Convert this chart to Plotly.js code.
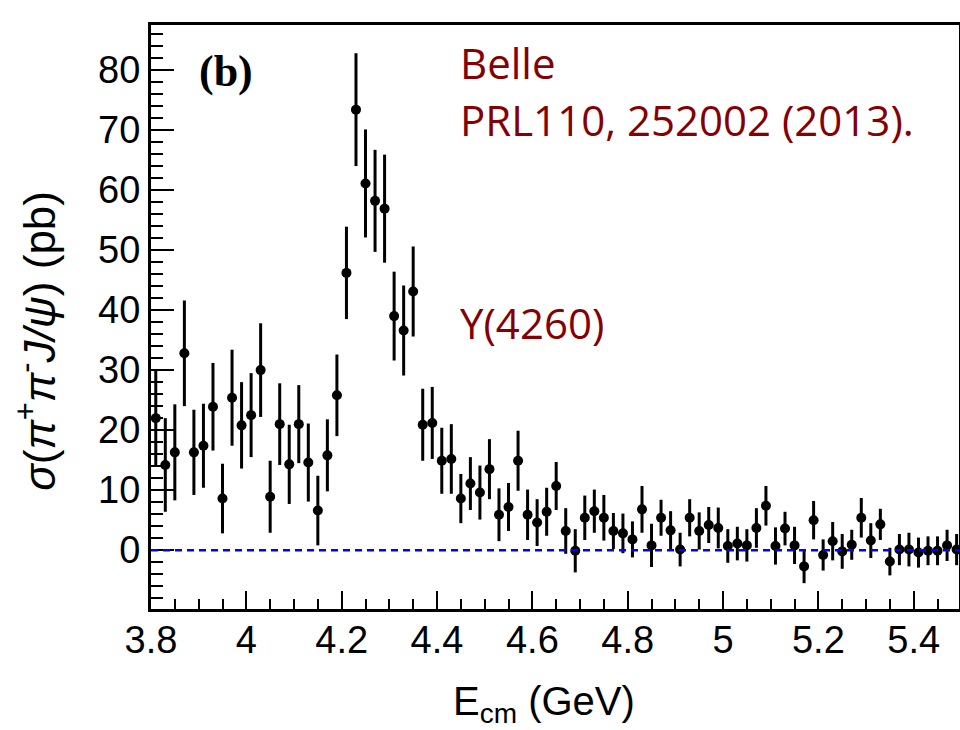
<!DOCTYPE html>
<html>
<head>
<meta charset="utf-8">
<script src="https://cdn.plot.ly/plotly-3.0.1.min.js"></script>
<style>html,body{margin:0;padding:0;background:#fff;}#chart{width:960px;height:730px;}</style>
</head>
<body>
<div id="chart"></div>
<script>
// Bin centres (GeV)
const energy = [3.81,3.83,3.85,3.87,3.89,3.91,3.93,3.95,3.97,3.99,
  4.01,4.03,4.05,4.07,4.09,4.11,4.13,4.15,4.17,4.19,
  4.21,4.23,4.25,4.27,4.29,4.31,4.33,4.35,4.37,4.39,
  4.41,4.43,4.45,4.47,4.49,4.51,4.53,4.55,4.57,4.59,
  4.61,4.63,4.65,4.67,4.69,4.71,4.73,4.75,4.77,4.79,
  4.81,4.83,4.85,4.87,4.89,4.91,4.93,4.95,4.97,4.99,
  5.01,5.03,5.05,5.07,5.09,5.11,5.13,5.15,5.17,5.19,
  5.21,5.23,5.25,5.27,5.29,5.31,5.33,5.35,5.37,5.39,
  5.41,5.43,5.45,5.47,5.49];
// Cross section (pb)
const sigma = [22.0,14.2,16.3,32.8,16.3,17.4,23.9,8.6,25.4,20.8,
  22.5,30.0,8.9,21.0,14.3,21.0,14.6,6.6,15.8,25.8,
  46.2,73.4,61.1,58.2,56.9,39.0,36.6,43.1,20.9,21.2,
  14.9,15.2,8.6,11.1,9.6,13.5,5.9,7.2,14.9,5.9,
  4.6,6.4,10.7,3.2,-0.1,5.4,6.5,5.4,3.2,2.8,
  1.8,6.8,0.8,5.4,3.3,0.1,5.4,3.2,4.2,3.7,
  0.7,1.1,0.8,3.7,7.4,0.7,3.6,0.8,-2.7,5.0,
  -0.8,1.5,-0.2,0.9,5.4,1.6,4.3,-1.9,0.1,0.1,
  -0.4,-0.1,-0.1,0.8,0.1];
// Statistical errors (pb)
const sigmaErr = [8.0,7.8,8.0,8.8,7.1,7.0,7.3,5.8,8.0,7.2,
  7.0,7.8,6.0,6.8,6.6,6.5,6.5,5.8,6.0,6.8,
  7.7,9.4,9.0,8.5,9.0,7.4,7.5,7.5,6.0,6.0,
  5.5,5.8,4.1,4.4,4.5,5.0,4.4,4.0,5.0,4.2,
  3.9,4.0,4.0,3.8,3.6,3.7,3.6,3.8,3.0,3.3,
  3.0,3.9,3.6,3.0,3.2,2.8,3.1,3.1,3.0,3.4,
  2.8,2.8,2.7,3.3,3.3,3.1,2.8,3.1,2.8,3.2,
  2.6,3.2,2.9,2.5,3.3,2.9,2.6,2.3,2.6,2.8,
  2.5,2.4,2.4,2.6,2.6];

const xTickVals = [3.8,4.0,4.2,4.4,4.6,4.8,5.0,5.2,5.4];
const xTickText = ["3.8","4","4.2","4.4","4.6","4.8","5","5.2","5.4"];
const yTickVals = [0,10,20,30,40,50,60,70,80];
const yTickText = ["0","10","20","30","40","50","60","70","80"];

const trace = {
  x: energy, y: sigma, type: 'scatter', mode: 'markers',
  marker: {color: '#000', size: 10},
  error_y: {type: 'data', array: sigmaErr, visible: true, color: '#000', thickness: 3, width: 0},
  showlegend: false, hoverinfo: 'x+y'
};

const sansFont = '"Liberation Sans", Arial, Helvetica, sans-serif';
const tickFont = {family: sansFont, size: 38, color: '#000'};
const red = '#850000';
const noteFont = {family: '"Open Sans", "Noto Sans", sans-serif', size: 42, color: red};

const layout = {
  width: 960, height: 730,
  margin: {l: 151, r: 1, t: 25, b: 121},
  paper_bgcolor: '#fff', plot_bgcolor: '#fff',
  xaxis: {
    range: [3.8, 5.495], showgrid: false, zeroline: false,
    showline: true, linecolor: '#000', linewidth: 3, mirror: true,
    ticks: 'inside', ticklen: 18, tickwidth: 2, tickcolor: '#000',
    tickmode: 'array', tickvals: xTickVals, ticktext: xTickText,
    tickfont: tickFont, ticklabelstandoff: -5,
    minor: {dtick: 0.05, tick0: 3.8, ticks: 'inside', ticklen: 10, tickwidth: 2, tickcolor: '#000', showgrid: false}
  },
  yaxis: {
    range: [-9.8, 87.5], showgrid: false, zeroline: false,
    showline: true, linecolor: '#000', linewidth: 3, mirror: true,
    ticks: 'inside', ticklen: 23, tickwidth: 2, tickcolor: '#000',
    tickmode: 'array', tickvals: yTickVals, ticktext: yTickText,
    tickfont: tickFont, ticklabelstandoff: 0,
    minor: {dtick: 2, tick0: 0, ticks: 'inside', ticklen: 12, tickwidth: 2, tickcolor: '#000', showgrid: false}
  },
  shapes: [{type: 'line', xref: 'paper', x0: 0, x1: 1, yref: 'y', y0: 0, y1: 0,
    line: {color: '#0000ff', width: 2.5, dash: '7px,5px'}, layer: 'above'}],
  annotations: [
    {text: 'E<sub>cm</sub> (GeV)', xref: 'paper', yref: 'paper', x: 0.486, y: -0.116, xanchor: 'center', yanchor: 'top', showarrow: false,
      font: {family: sansFont, size: 40, color: '#000'}},
    {text: '<i>σ</i>(<i>π</i><sup>+</sup><i>π</i><sup>-</sup><i>J/ψ</i>) (pb)', xref: 'paper', yref: 'paper', x: -0.143, y: 0.46, xanchor: 'center', yanchor: 'middle', textangle: -90, showarrow: false,
      font: {family: sansFont, size: 44, color: '#000'}},
    {text: '<b>(b)</b>', xref: 'paper', yref: 'paper', x: 0.057, y: 0.92, xanchor: 'left', yanchor: 'middle', showarrow: false,
      font: {family: '"Liberation Serif", "Times New Roman", serif', size: 44, color: '#000'}},
    {text: 'Belle', xref: 'paper', yref: 'paper', x: 0.38, y: 0.935, xanchor: 'left', yanchor: 'middle', showarrow: false, font: noteFont},
    {text: 'PRL110, 252002 (2013).', xref: 'paper', yref: 'paper', x: 0.38, y: 0.838, xanchor: 'left', yanchor: 'middle', showarrow: false, font: noteFont},
    {text: 'Y(4260)', xref: 'paper', yref: 'paper', x: 0.38, y: 0.491, xanchor: 'left', yanchor: 'middle', showarrow: false, font: noteFont}
  ]
};

Plotly.newPlot('chart', [trace], layout, {displayModeBar: false, staticPlot: true});
</script>
</body>
</html>
